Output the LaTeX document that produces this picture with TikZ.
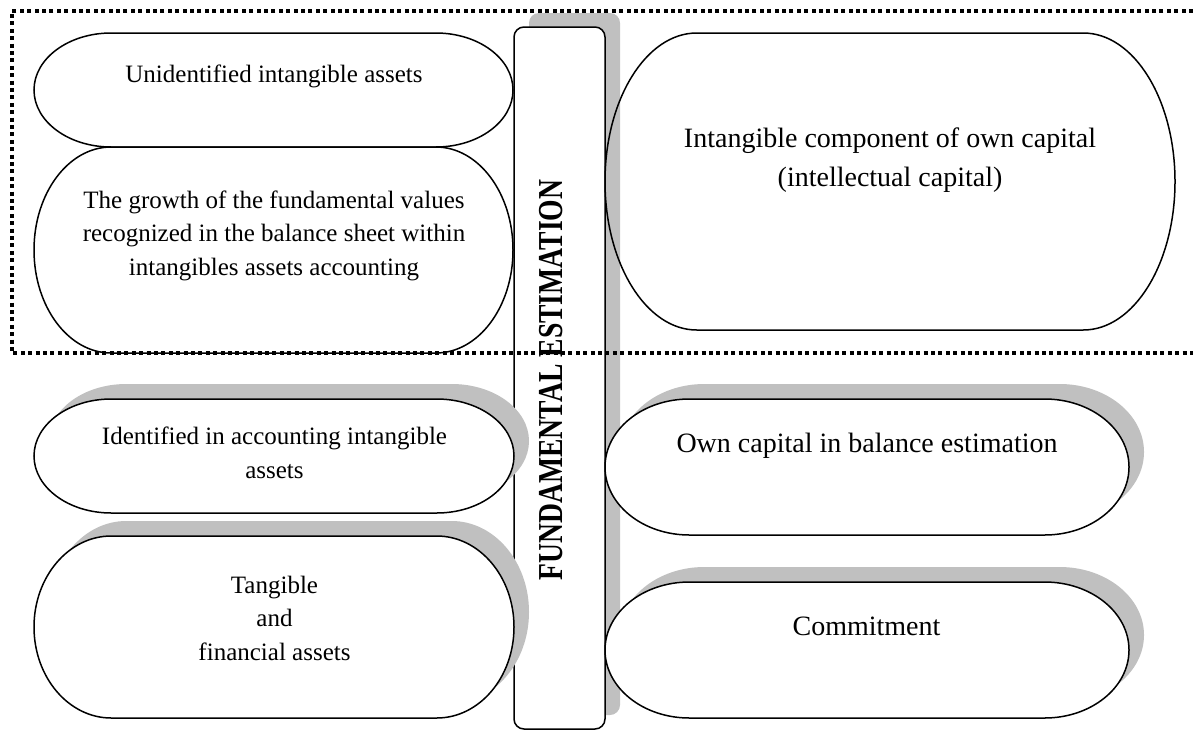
\documentclass[tikz,border=0pt]{standalone}
\usepackage{fontspec}
\setmainfont{Liberation Serif}
\definecolor{shadegray}{HTML}{C0C0C0}
% terminator shape: #2,#3 = left,top ; #4,#5 = right,bottom (page px, y down)
\newcommand{\termpath}[5][]{%
  \pgfmathsetmacro\termrx{0.161*(#4-#2)}%
  \pgfmathsetmacro\termry{(#5-#3)/2}%
  \path[#1] ({#2+\termrx},#3) -- ({#4-\termrx},#3)
    arc[start angle=90,end angle=-90,x radius=\termrx pt,y radius=\termry pt]
    -- ({#2+\termrx},#5)
    arc[start angle=270,end angle=90,x radius=\termrx pt,y radius=\termry pt]
    -- cycle;}
\begin{document}
\begin{tikzpicture}[x=1pt,y=-1pt,
  shp/.style={draw=black,line width=1.5pt},
  shadowfill/.style={fill=shadegray,draw=none,xshift=15pt,yshift=15pt},
  lefttxt/.style={align=center,inner sep=0pt,anchor=base,font=\fontsize{25}{33.5}\selectfont},
  righttxt/.style={align=center,inner sep=0pt,anchor=base,font=\fontsize{28}{39}\selectfont},
  dotline/.style={line width=4pt,dash pattern=on 4pt off 3.4pt}]
\useasboundingbox (0,0) rectangle (1193,731);
\fill[white] (0,0) rectangle (1193,731);
% central bar with shadow
\fill[shadegray,rounded corners=10pt] (529,13) rectangle (620,715);
\draw[shp,fill=white,rounded corners=10pt] (514,27) rectangle (605,729);
% upper shapes (no shadow)
\termpath[shp]{34}{33}{513}{147}
\termpath[shp]{34}{147}{513}{353}
\termpath[shp]{605}{33}{1175}{330}
% lower shapes with shadows
\termpath[shadowfill]{34}{399}{514}{513}
\termpath[shp,fill=white]{34}{399}{514}{513}
\termpath[shadowfill]{34}{536}{514}{718}
\termpath[shp,fill=white]{34}{536}{514}{718}
\termpath[shadowfill]{605}{399}{1129}{535}
\termpath[shp,fill=white]{605}{399}{1129}{535}
\termpath[shadowfill]{605}{582}{1129}{718}
\termpath[shp,fill=white]{605}{582}{1129}{718}
% texts (base anchor = baseline of the last line)
\node[lefttxt] (unid) at (274,82) {Unidentified intangible assets};
\node[lefttxt] (growth) at (274,275) {The growth of the fundamental values\\recognized in the balance sheet within\\intangibles assets accounting};
\node[righttxt] (intcomp) at (890,186) {Intangible component of own capital\\(intellectual capital)};
\node[lefttxt] (ident) at (274.5,478) {Identified in accounting intangible\\assets};
\node[lefttxt] (tang) at (274.5,660) {Tangible\\and\\financial assets};
\node[righttxt] (owncap) at (867,452) {Own capital in balance estimation};
\node[righttxt] (commit) at (866.5,635) {Commitment};
\node[inner sep=0pt,rotate=90,font=\fontsize{35}{35}\selectfont\bfseries] (fund) at (551,380) {\scalebox{0.79}[1]{FUNDAMENTAL ESTIMATION}};
% dotted frame on top
\draw[dotline] (1193,11) -- (12,11) -- (12,353) -- (1193,353);
\end{tikzpicture}
\end{document}
